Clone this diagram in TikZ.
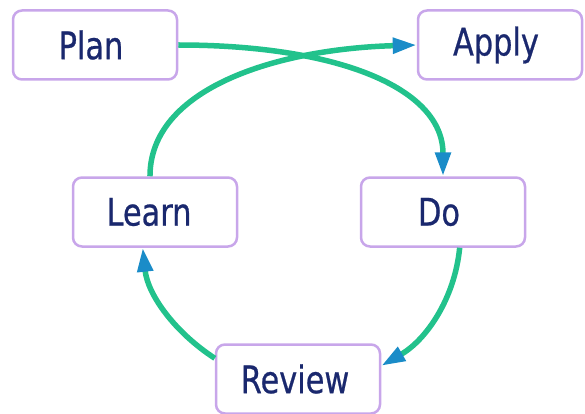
\documentclass[tikz,border=0pt]{standalone}
\usepackage{fontspec}
\setmainfont{DejaVu Sans}[FakeStretch=0.8,FakeBold=0.6]
\usepackage{tikz}
\usetikzlibrary{positioning}
\usetikzlibrary{arrows.meta}
\definecolor{boxpurple}{RGB}{200,166,234}
\definecolor{textnavy}{RGB}{26,40,110}
\definecolor{loopgreen}{RGB}{34,194,140}
\definecolor{tipblue}{RGB}{26,140,200}
\tikzset{
  box/.style            = { rectangle, minimum width=164pt, minimum height=69pt, inner sep=0pt },
  border/.style         = { line width=2.5pt, draw=boxpurple },
  round/.style          = { rounded corners=9pt },
}
\tikzset{
  stage/.style          = { box, border, round, fill=white, text=textnavy, font=\fontsize{38}{40}\selectfont },
  loop/.style           = { line width=5.5pt, draw=loopgreen },
}

\begin{document}
\begin{tikzpicture}[
  x=1pt, y=-1pt,
  >={Triangle[length=24pt,width=15pt,color=tipblue]}
]
  \useasboundingbox (0,0) rectangle (585,414);

  \node (plan)   [stage] at (95,45)   {Plan\hspace*{8pt}};
  \node (apply)  [stage] at (500,45)  {Apply\hspace*{8pt}};
  \node (learn)  [stage] at (155,212) {Learn\hspace*{12pt}};
  \node (do)     [stage] at (443,212) {Do\hspace*{8pt}};
  \node (review) [stage] at (298,379) {Review\hspace*{6pt}};

  \draw [loop,->] (plan.east)   .. controls +(160,0)  and +(0,-88)  .. (do.north);
  \draw [loop,->] (learn.98)    .. controls +(0,-88)  and +(-140,4) .. (apply.west);
  \draw [loop,->] (do.-65)      .. controls +(-5,51)  and +(45,-26) .. (review.9);
  \draw [loop,->] (review.166)  .. controls +(-40,-26) and +(5,47)  .. (learn.-109);

\end{tikzpicture}
\end{document}
